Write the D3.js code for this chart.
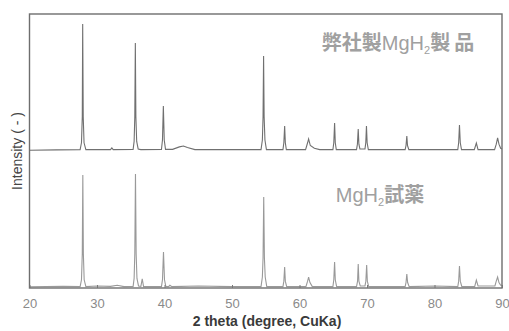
<!DOCTYPE html>
<html>
<head>
<meta charset="utf-8">
<script src="https://cdn.jsdelivr.net/npm/d3@7"></script>
<style>
  body { margin: 0; background: #fff; }
  svg { display: block; font-family: "Liberation Sans", Arial, sans-serif; }
</style>
</head>
<body>
<svg id="chart"></svg>
<script>
'use strict';

// upper pattern: in-house MgH2 product, [2theta, intensity]
var productPattern = [
  [20, 0.6], [24, 0.8], [27.5, 1],
  [27.7, 6], [27.82, 25], [27.88, 92.7], [27.96, 25], [28.08, 6], [28.35, 1],
  [32.0, 1], [32.2, 2.2], [32.4, 1],
  [35.35, 1.2], [35.5, 7], [35.6, 25], [35.68, 78.8], [35.76, 25], [35.88, 7], [36.1, 1.5], [36.5, 1],
  [39.55, 1.2], [39.7, 8], [39.83, 32.8], [39.96, 8], [40.15, 1.2],
  [41.2, 1.2], [42.2, 3], [42.8, 3.6], [43.4, 2.5], [44.5, 1],
  [54.3, 1], [54.5, 8], [54.6, 25], [54.68, 69.3], [54.76, 25], [54.88, 8], [55.1, 1],
  [57.55, 1], [57.68, 6], [57.8, 18.2], [57.9, 6], [58.05, 1],
  [60.9, 1], [61.2, 6], [61.35, 8.8], [61.6, 4], [62.2, 2], [63, 1],
  [64.95, 1], [65.08, 6], [65.2, 20.4], [65.3, 6], [65.45, 1],
  [68.45, 1], [68.58, 5], [68.7, 16], [68.8, 5], [68.95, 1.5],
  [69.7, 1.5], [69.82, 6], [69.92, 18.2], [70.02, 6], [70.2, 1],
  [75.65, 1], [75.78, 4], [75.9, 11], [76.0, 4], [76.2, 1],
  [83.45, 1], [83.58, 6], [83.7, 19], [83.82, 6], [84.0, 1],
  [85.9, 1], [86.2, 5.8], [86.45, 1],
  [88.9, 1], [89.15, 5], [89.35, 9.5], [89.55, 5], [89.8, 2], [90, 1.5]
];

// lower pattern: MgH2 reagent
var reagentPattern = [
  [20, 0.8], [25, 1.2], [27.5, 1],
  [27.7, 6], [27.82, 25], [27.9, 82.5], [27.98, 25], [28.1, 6], [28.35, 1],
  [30, 1.5], [32, 1.2], [33, 2], [34, 1],
  [35.35, 1.2], [35.5, 7], [35.6, 25], [35.7, 83.2], [35.8, 25], [35.92, 7], [36.15, 1.5],
  [36.5, 1.2], [36.7, 6.6], [36.9, 1],
  [39.55, 1], [39.7, 6], [39.85, 26.3], [40.0, 6], [40.2, 1],
  [40.6, 1], [40.8, 2], [41.1, 1],
  [45, 1.5], [50, 1],
  [54.3, 1], [54.5, 8], [54.6, 22], [54.7, 66.4], [54.8, 22], [54.92, 8], [55.15, 1],
  [57.55, 1], [57.68, 5], [57.8, 15.3], [57.9, 5], [58.1, 1],
  [60.95, 1], [61.2, 5], [61.35, 8], [61.55, 4], [61.9, 1],
  [64.95, 1], [65.08, 6], [65.2, 19], [65.3, 6], [65.5, 1],
  [68.45, 1], [68.6, 5], [68.7, 17.5], [68.8, 5], [69.0, 1.5],
  [69.7, 1.5], [69.83, 5], [69.95, 16.8], [70.05, 5], [70.25, 1],
  [75.65, 1], [75.78, 4], [75.9, 10.2], [76.02, 4], [76.25, 1],
  [80, 1.5],
  [83.45, 1], [83.58, 5], [83.7, 16], [83.82, 5], [84.05, 1],
  [85.95, 1], [86.2, 5.8], [86.45, 1.5],
  [88.95, 1.5], [89.15, 5], [89.35, 8], [89.55, 4], [89.8, 2], [90, 2]
];

var xTicks = [20, 30, 40, 50, 60, 70, 80, 90];
var productOffset = 100;
var reagentOffset = 0;
// label pieces: [text, kind]
var productLabel = [['弊社製', 'cjk'], ['MgH', 'latin'], ['2', 'sub'], ['製\u2009品', 'cjk']];
var reagentLabel = [['MgH', 'latin'], ['2', 'sub'], ['試薬', 'cjk']];

var chart = {};
chart.margin = {top: 14, right: 8, bottom: 43, left: 29.5};
chart.width = 509 - chart.margin.left - chart.margin.right;
chart.height = 331 - chart.margin.top - chart.margin.bottom;

var svg = d3.select('#chart').attr('width', 509).attr('height', 331);
var g = svg.append('g')
  .attr('transform', 'translate(' + chart.margin.left + ',' + chart.margin.top + ')');

var x = d3.scaleLinear().domain([20, 90]).range([0, chart.width + 1]);
var y = d3.scaleLinear().domain([0, 200]).range([chart.height, 0]);

function line(offset) {
  return d3.line()
    .x(function(d) { return x(d[0]); })
    .y(function(d) { return y(d[1] + offset); });
}

g.append('path')
  .datum(reagentPattern)
  .attr('fill', 'none')
  .attr('stroke', '#999')
  .attr('stroke-width', 1.1)
  .attr('d', line(reagentOffset));

g.append('path')
  .datum(productPattern)
  .attr('fill', 'none')
  .attr('stroke', '#707070')
  .attr('stroke-width', 1.1)
  .attr('d', line(productOffset));

// frame
g.append('rect')
  .attr('x', 0).attr('y', 0)
  .attr('width', chart.width + 1).attr('height', chart.height)
  .attr('fill', 'none')
  .attr('stroke', '#6e6e6e')
  .attr('stroke-width', 1.4);

var xAxis = g.append('g')
  .attr('transform', 'translate(0,' + chart.height + ')')
  .call(d3.axisBottom(x).tickValues(xTicks).tickSizeInner(-3).tickSizeOuter(0).tickPadding(11));
xAxis.select('.domain').remove();
xAxis.selectAll('line').attr('stroke', '#777');
xAxis.selectAll('text')
  .attr('fill', '#8a8a8a')
  .style('font-size', '13px')
  .style('font-family', '"Liberation Sans", Arial, sans-serif');

svg.append('text')
  .attr('x', 267).attr('y', 326)
  .attr('text-anchor', 'middle')
  .attr('fill', '#3a3a3a')
  .style('font-size', '14px')
  .style('font-weight', 'bold')
  .text('2 theta (degree, CuKa)');

svg.append('text')
  .attr('transform', 'translate(22,151) rotate(-90)')
  .attr('text-anchor', 'middle')
  .attr('fill', '#444')
  .style('font-size', '14px')
  .text('Intensity ( - )');

function label(parts, cx, cy) {
  var t = svg.append('text')
    .attr('x', cx).attr('y', cy)
    .attr('text-anchor', 'middle')
    .attr('fill', '#a0a0a0')
    .style('font-size', '20px');
  parts.forEach(function(p, i) {
    var s = t.append('tspan').text(p[0]);
    if (p[1] === 'sub') {
      s.style('font-size', '11px').attr('dy', 4);
    } else {
      s.style('font-family', p[1] === 'cjk' ? '"Noto Sans CJK JP", sans-serif' : '"Liberation Sans", Arial, sans-serif');
      if (p[1] === 'cjk') s.style('font-weight', 'bold');
      if (i > 0 && parts[i - 1][1] === 'sub') s.attr('dy', -4);
    }
  });
}

label(productLabel, 398, 50);
label(reagentLabel, 380, 202);
</script>
</body>
</html>
